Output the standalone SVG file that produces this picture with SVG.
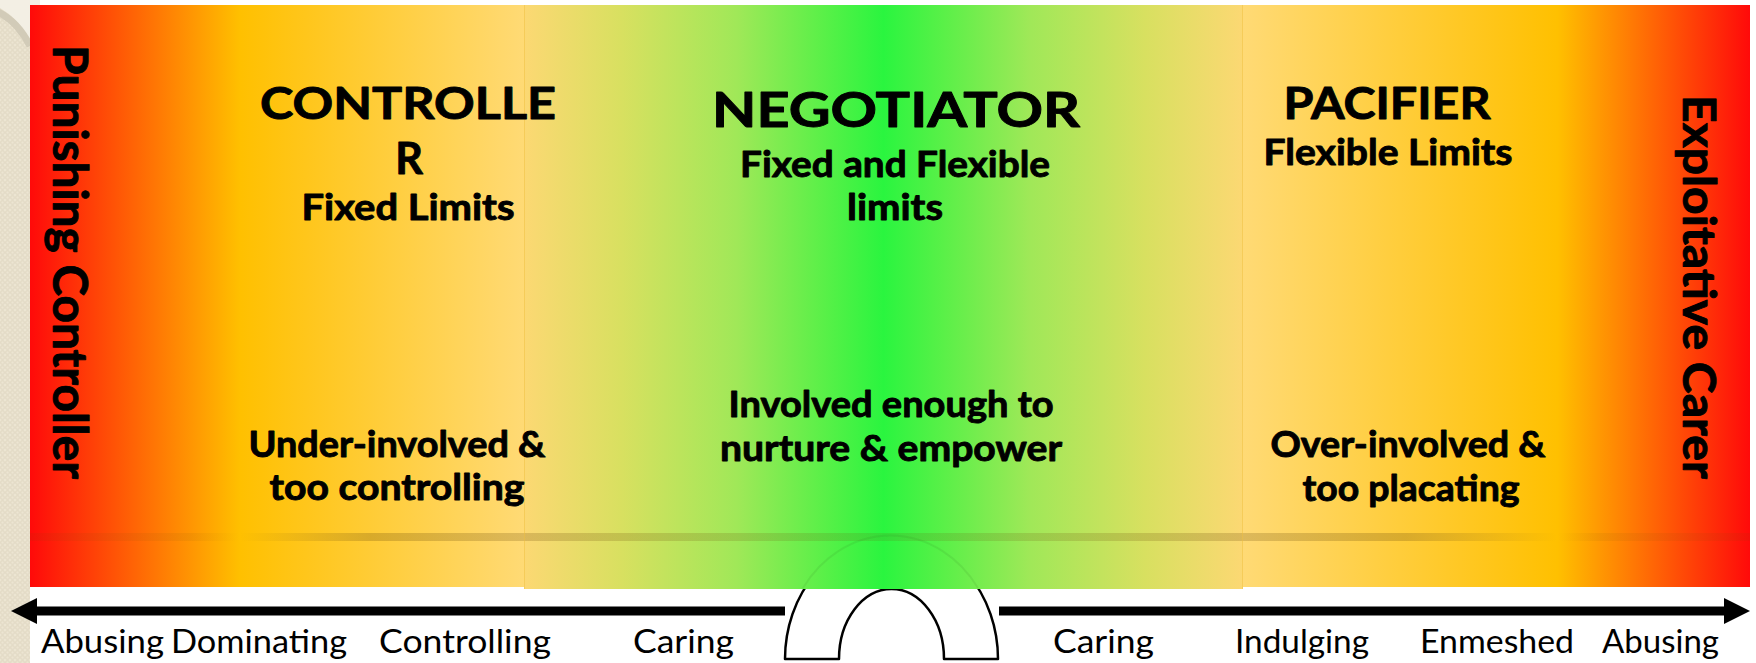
<svg xmlns="http://www.w3.org/2000/svg" width="1756" height="663" viewBox="0 0 1756 663">
<defs>
  <style>
    .h { font-family: Lato, "Liberation Sans", sans-serif; font-weight: 700; fill: #000; stroke: #000; stroke-width: 0.9; stroke-linejoin: round; text-anchor: middle; }
    .lbl { font-family: Lato, "Liberation Sans", sans-serif; font-weight: 400; font-size: 32px; fill: #000; }
    .arrow { stroke: #000; stroke-width: 9; fill: none; marker-end: url(#ah); }
  </style>
  <marker id="ah" markerUnits="userSpaceOnUse" markerWidth="27" markerHeight="27" refX="0" refY="13" orient="auto" viewBox="0 0 27 26">
    <path d="M0,0 L26,13 L0,26 Z" fill="#000"/>
  </marker>
  <linearGradient id="gL" gradientUnits="userSpaceOnUse" x1="30" y1="0" x2="524" y2="0">
    <stop offset="0" stop-color="#FF0A0A"/>
    <stop offset="0.425" stop-color="#FFC000"/>
    <stop offset="1" stop-color="#FFDA75"/>
  </linearGradient>
  <linearGradient id="gC" gradientUnits="userSpaceOnUse" x1="524" y1="0" x2="1243" y2="0">
    <stop offset="0" stop-color="#FCD873"/>
    <stop offset="0.136" stop-color="#D8E060"/>
    <stop offset="0.296" stop-color="#A0E858"/>
    <stop offset="0.416" stop-color="#5AF048"/>
    <stop offset="0.5" stop-color="#2AF53F"/>
    <stop offset="0.584" stop-color="#5AF048"/>
    <stop offset="0.704" stop-color="#A0E858"/>
    <stop offset="0.864" stop-color="#D8E060"/>
    <stop offset="1" stop-color="#FCD873"/>
  </linearGradient>
  <linearGradient id="gR" gradientUnits="userSpaceOnUse" x1="1243" y1="0" x2="1750" y2="0">
    <stop offset="0" stop-color="#FFDA75"/>
    <stop offset="0.62" stop-color="#FFC000"/>
    <stop offset="1" stop-color="#FF0A0A"/>
  </linearGradient>
  <linearGradient id="gBand" gradientUnits="userSpaceOnUse" x1="30" y1="0" x2="1750" y2="0">
    <stop offset="0" stop-color="#6A4A08" stop-opacity="0.08"/>
    <stop offset="0.093" stop-color="#6A4A08" stop-opacity="0.08"/>
    <stop offset="0.122" stop-color="#6A4A08" stop-opacity="0"/>
    <stop offset="0.198" stop-color="#6A4A08" stop-opacity="0.26"/>
    <stop offset="0.288" stop-color="#6A4A08" stop-opacity="0.23"/>
    <stop offset="0.5" stop-color="#6A4A08" stop-opacity="0.14"/>
    <stop offset="0.705" stop-color="#6A4A08" stop-opacity="0.23"/>
    <stop offset="0.8" stop-color="#6A4A08" stop-opacity="0.26"/>
    <stop offset="0.888" stop-color="#6A4A08" stop-opacity="0"/>
    <stop offset="0.913" stop-color="#6A4A08" stop-opacity="0.08"/>
    <stop offset="1" stop-color="#6A4A08" stop-opacity="0.08"/>
  </linearGradient>
  <pattern id="beige" patternUnits="userSpaceOnUse" width="5" height="5">
    <rect width="5" height="5" fill="#ECE5D2"/>
    <rect x="0.8" y="0.8" width="3.4" height="3.4" rx="1" fill="none" stroke="#DCD3BC" stroke-width="0.8"/>
  </pattern>
</defs>

<!-- backdrop -->
<rect x="0" y="0" width="1756" height="663" fill="#FFFFFF"/>
<rect x="0" y="0" width="30" height="663" fill="url(#beige)"/>
<rect x="0" y="0" width="40" height="5" fill="url(#beige)"/>
<path d="M0,0 L40,0 L40,5 L30,5 L30,40 Q18,18 0,8 Z" fill="#F3EFE4"/>
<path d="M-2,12 Q18,22 30,46" fill="none" stroke="#D2CBB8" stroke-width="7"/>

<!-- bridge (arch under the scale) -->
<g id="bridge">
  <path d="M785,659 A106.5,122 0 0 1 998,659 L944,659 A52.5,70 0 0 0 839,659 Z" fill="#FFFFFF" stroke="#000" stroke-width="2.5" stroke-linejoin="round"/>
</g>

<!-- coloured panels -->
<g id="panels">
  <rect x="30" y="5" width="494" height="582" fill="url(#gL)"/>
  <rect x="1243" y="5" width="507" height="582" fill="url(#gR)"/>
  <rect x="524" y="5" width="719" height="584" fill="url(#gC)"/>
  <rect x="30" y="533" width="1720" height="8" fill="url(#gBand)"/>
  <path d="M803,588 A106.5,122 0 0 1 978,588" fill="none" stroke="#2E7A20" stroke-opacity="0.12" stroke-width="2"/>
  <line x1="524.5" y1="5" x2="524.5" y2="589" stroke="#F0C040" stroke-opacity="0.5" stroke-width="1"/>
  <line x1="1242.5" y1="5" x2="1242.5" y2="589" stroke="#F0C040" stroke-opacity="0.5" stroke-width="1"/>
</g>

<!-- side labels -->
<g id="punishing-controller">
  <text class="h" font-size="48" transform="translate(53,262) rotate(90)" textLength="434" lengthAdjust="spacingAndGlyphs">Punishing Controller</text>
</g>
<g id="exploitative-carer">
  <text class="h" font-size="46" transform="translate(1683,287) rotate(90)" textLength="384" lengthAdjust="spacingAndGlyphs">Exploitative Carer</text>
</g>

<!-- columns -->
<g id="controller">
  <text class="h" font-size="43" x="408" y="119" textLength="296" lengthAdjust="spacingAndGlyphs">CONTROLLE</text>
  <text class="h" font-size="43" x="409" y="174">R</text>
  <text class="h" font-size="36" x="408" y="220" textLength="213" lengthAdjust="spacingAndGlyphs">Fixed Limits</text>
  <text class="h" font-size="36" x="397" y="457" textLength="297" lengthAdjust="spacingAndGlyphs">Under-involved &amp;</text>
  <text class="h" font-size="36" x="397" y="500" textLength="255" lengthAdjust="spacingAndGlyphs">too controlling</text>
</g>
<g id="negotiator">
  <text class="h" font-size="48" x="896" y="127" textLength="368" lengthAdjust="spacingAndGlyphs">NEGOTIATOR</text>
  <text class="h" font-size="36" x="895" y="177" textLength="310" lengthAdjust="spacingAndGlyphs">Fixed and Flexible</text>
  <text class="h" font-size="36" x="895" y="220" textLength="96" lengthAdjust="spacingAndGlyphs">limits</text>
  <text class="h" font-size="36" x="891" y="417" textLength="325" lengthAdjust="spacingAndGlyphs">Involved enough to</text>
  <text class="h" font-size="36" x="891" y="461" textLength="342" lengthAdjust="spacingAndGlyphs">nurture &amp; empower</text>
</g>
<g id="pacifier">
  <text class="h" font-size="43" x="1387" y="119" textLength="207" lengthAdjust="spacingAndGlyphs">PACIFIER</text>
  <text class="h" font-size="36" x="1388" y="165" textLength="249" lengthAdjust="spacingAndGlyphs">Flexible Limits</text>
  <text class="h" font-size="36" x="1408" y="457" textLength="275" lengthAdjust="spacingAndGlyphs">Over-involved &amp;</text>
  <text class="h" font-size="36" x="1411" y="501" textLength="217" lengthAdjust="spacingAndGlyphs">too placating</text>
</g>

<!-- scale arrows -->
<g id="connectors">
  <line class="arrow" x1="785" y1="611" x2="37" y2="611"/>
  <line class="arrow" x1="999" y1="611" x2="1724" y2="611"/>
</g>

<!-- scale labels -->
<g id="scale-labels">
  <text class="lbl" x="41" y="653" textLength="123" lengthAdjust="spacingAndGlyphs">Abusing</text>
  <text class="lbl" x="171" y="653" textLength="176" lengthAdjust="spacingAndGlyphs">Dominating</text>
  <text class="lbl" x="379" y="653" textLength="172" lengthAdjust="spacingAndGlyphs">Controlling</text>
  <text class="lbl" x="633" y="653" textLength="101" lengthAdjust="spacingAndGlyphs">Caring</text>
  <text class="lbl" x="1053" y="653" textLength="101" lengthAdjust="spacingAndGlyphs">Caring</text>
  <text class="lbl" x="1235" y="653" textLength="134" lengthAdjust="spacingAndGlyphs">Indulging</text>
  <text class="lbl" x="1420" y="653" textLength="154" lengthAdjust="spacingAndGlyphs">Enmeshed</text>
  <text class="lbl" x="1602" y="653" textLength="117" lengthAdjust="spacingAndGlyphs">Abusing</text>
</g>
</svg>
